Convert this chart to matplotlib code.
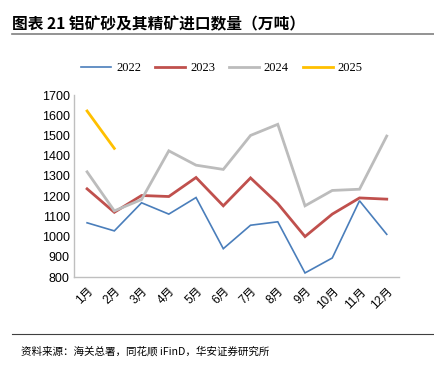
import matplotlib
matplotlib.use("Agg")
import matplotlib.pyplot as plt
from matplotlib.lines import Line2D

plt.rcParams['font.family'] = ['Liberation Sans', 'Noto Sans CJK SC', 'DejaVu Sans']

months = ['1月', '2月', '3月', '4月', '5月', '6月', '7月', '8月', '9月', '10月', '11月', '12月']
v2022 = [1068, 1028, 1167, 1111, 1193, 940, 1056, 1073, 820, 894, 1177, 1011]
v2023 = [1236, 1120, 1203, 1198, 1292, 1152, 1290, 1163, 1000, 1111, 1191, 1185]
v2024 = [1320, 1127, 1183, 1424, 1353, 1332, 1500, 1555, 1152, 1228, 1234, 1497]
v2025 = [1621, 1436]
series_names = ['2022', '2023', '2024', '2025']
yticks = [800, 900, 1000, 1100, 1200, 1300, 1400, 1500, 1600, 1700]

colors = ['#4a7ebb', '#c0504d', '#bcbcbc', '#ffc000']
widths = [1.2, 2.0, 2.0, 2.0]

W, H = 434, 365
fig = plt.figure(figsize=(W / 100, H / 100), dpi=100)
ax = fig.add_axes([74 / W, 1 - 277 / H, (399 - 74) / W, (277 - 95) / H])

x = list(range(len(months)))
for vals, c, lw in zip([v2022, v2023, v2024, v2025], colors, widths):
    ax.plot(x[:len(vals)], vals, color=c, lw=lw, solid_joinstyle='miter')

ax.set_ylim(800, 1700)
ax.set_xlim(-0.48, 11.45)
ax.set_yticks(yticks)
ax.set_yticklabels([str(t) for t in yticks], fontsize=9)
ax.set_xticks(x)
ax.set_xticklabels(months, rotation=45, fontsize=8.5, ha='right', va='top',
                   rotation_mode='anchor', family=['Liberation Sans', 'Noto Sans CJK SC'])
ax.tick_params(length=0, pad=3)
ax.tick_params(axis='x', pad=6)
for s in ['top', 'right']:
    ax.spines[s].set_visible(False)
for s in ['left', 'bottom']:
    ax.spines[s].set_color('#bfbfbf')
    ax.spines[s].set_linewidth(1.0)

handles = [Line2D([], [], color=c, lw=lw) for c, lw in zip(colors, widths)]
fig.legend(handles, series_names, loc='center', bbox_to_anchor=(222 / W, 1 - 68 / H),
           ncol=4, frameon=False, handlelength=2.4, columnspacing=1.1, handletextpad=0.4,
           prop={'family': 'Liberation Serif', 'size': 9})

fig.text(12 / W, 1 - 24 / H, '图表 21 铝矿砂及其精矿进口数量（万吨）', fontsize=11.3, fontweight='bold',
         family=['Noto Sans CJK SC'], va='center', ha='left')
fig.add_artist(Line2D([12 / W, 1], [1 - 34 / H, 1 - 34 / H], color='#808080', lw=1.2))
fig.add_artist(Line2D([12 / W, 1], [1 - 334 / H, 1 - 334 / H], color='#404040', lw=0.8))
fig.text(21 / W, 1 - 351 / H, '资料来源：海关总署，同花顺 iFinD，华安证券研究所', fontsize=7.6,
         family=['Noto Sans CJK SC'], va='center', ha='left')

fig.savefig('out.png', dpi=100)
